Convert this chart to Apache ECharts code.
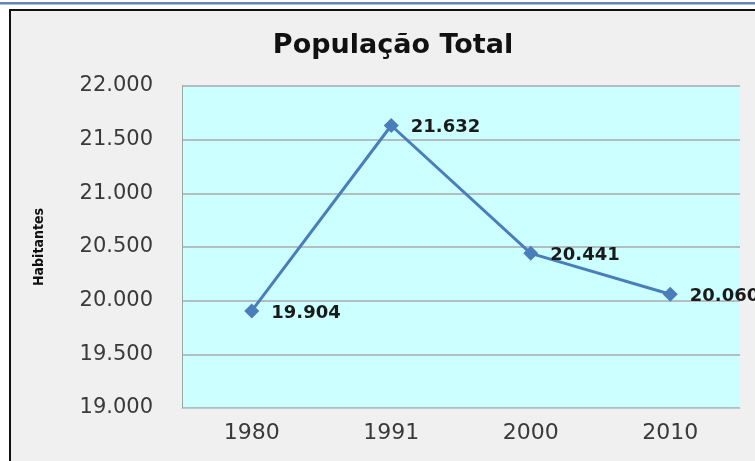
<!DOCTYPE html>
<html>
<head>
<meta charset="utf-8">
<script src="https://cdn.jsdelivr.net/npm/echarts@6/dist/echarts.min.js"></script>
<style>
  html, body { margin: 0; padding: 0; width: 755px; height: 461px; overflow: hidden; background: #ffffff; }
  #chart { position: absolute; left: 0; top: 0; width: 755px; height: 461px; }
  .frame { position: absolute; pointer-events: none; }
</style>
</head>
<body>
<div id="chart"></div>
<!-- page frame: white margin, blue rule on top, black chart border -->
<div class="frame" style="left:0;top:0;width:755px;height:9px;background:#ffffff;"></div>
<div class="frame" style="left:0;top:0;width:9px;height:461px;background:#ffffff;"></div>
<div class="frame" style="left:0;top:2px;width:755px;height:2px;background:#6786b8;"></div>
<div class="frame" style="left:0;top:4px;width:755px;height:1px;background:#a9bcd9;"></div>
<div class="frame" style="left:9px;top:9px;width:746px;height:2px;background:#111111;"></div>
<div class="frame" style="left:9px;top:9px;width:2px;height:452px;background:#111111;"></div>
<script>
// Census years and resident population
const years = ['1980', '1991', '2000', '2010'];
const population = [19904, 21632, 20441, 20060];
const titleText = 'População Total';
const yAxisName = 'Habitantes';
const yMin = 19000, yMax = 22000, yStep = 500;

// Brazilian thousands separator: 21632 -> "21.632"
function fmt(v) {
  return String(Math.round(v)).replace(/\B(?=(\d{3})+(?!\d))/g, '.');
}

const chart = echarts.init(document.getElementById('chart'));
chart.setOption({
  backgroundColor: '#f0f0f0',
  animation: false,
  title: {
    text: titleText,
    left: 388,
    top: 27,
    textAlign: 'center',
    textStyle: { fontFamily: 'DejaVu Sans', fontWeight: 'bold', fontSize: 27, color: '#111111' }
  },
  grid: {
    left: 182, top: 86, right: 15, bottom: 53,
    show: true, backgroundColor: '#ccffff', borderWidth: 0
  },
  xAxis: {
    type: 'category',
    data: years,
    boundaryGap: true,
    axisTick: { show: false },
    axisLine: { show: true, lineStyle: { color: '#b9cccc', width: 1 } },
    axisLabel: { fontFamily: 'DejaVu Sans', fontSize: 22, color: '#3a3a3a', margin: 14 }
  },
  yAxis: {
    type: 'value',
    min: yMin, max: yMax, interval: yStep,
    name: yAxisName,
    nameLocation: 'middle',
    nameRotate: 90,
    nameGap: 136,
    nameTextStyle: { fontFamily: 'DejaVu Sans Condensed', fontWeight: 'bold', fontSize: 14, color: '#111111' },
    axisLine: { show: true, lineStyle: { color: '#9aa6a6', width: 1 } },
    axisTick: { show: false },
    axisLabel: { fontFamily: 'DejaVu Sans', fontSize: 21, color: '#3a3a3a', margin: 29, formatter: fmt },
    splitLine: { show: true, lineStyle: { color: '#b3bebe', width: 2 } }
  },
  series: [{
    type: 'line',
    data: population,
    symbol: 'diamond',
    symbolSize: 15,
    lineStyle: { color: '#4a7ebb', width: 3 },
    itemStyle: { color: '#4a7ebb' },
    label: {
      show: true,
      position: 'right',
      distance: 12,
      offset: [0, 2],
      fontFamily: 'DejaVu Sans',
      fontWeight: 'bold',
      fontSize: 18,
      color: '#1a1a1a',
      formatter: p => fmt(p.value)
    }
  }]
});
</script>
</body>
</html>
